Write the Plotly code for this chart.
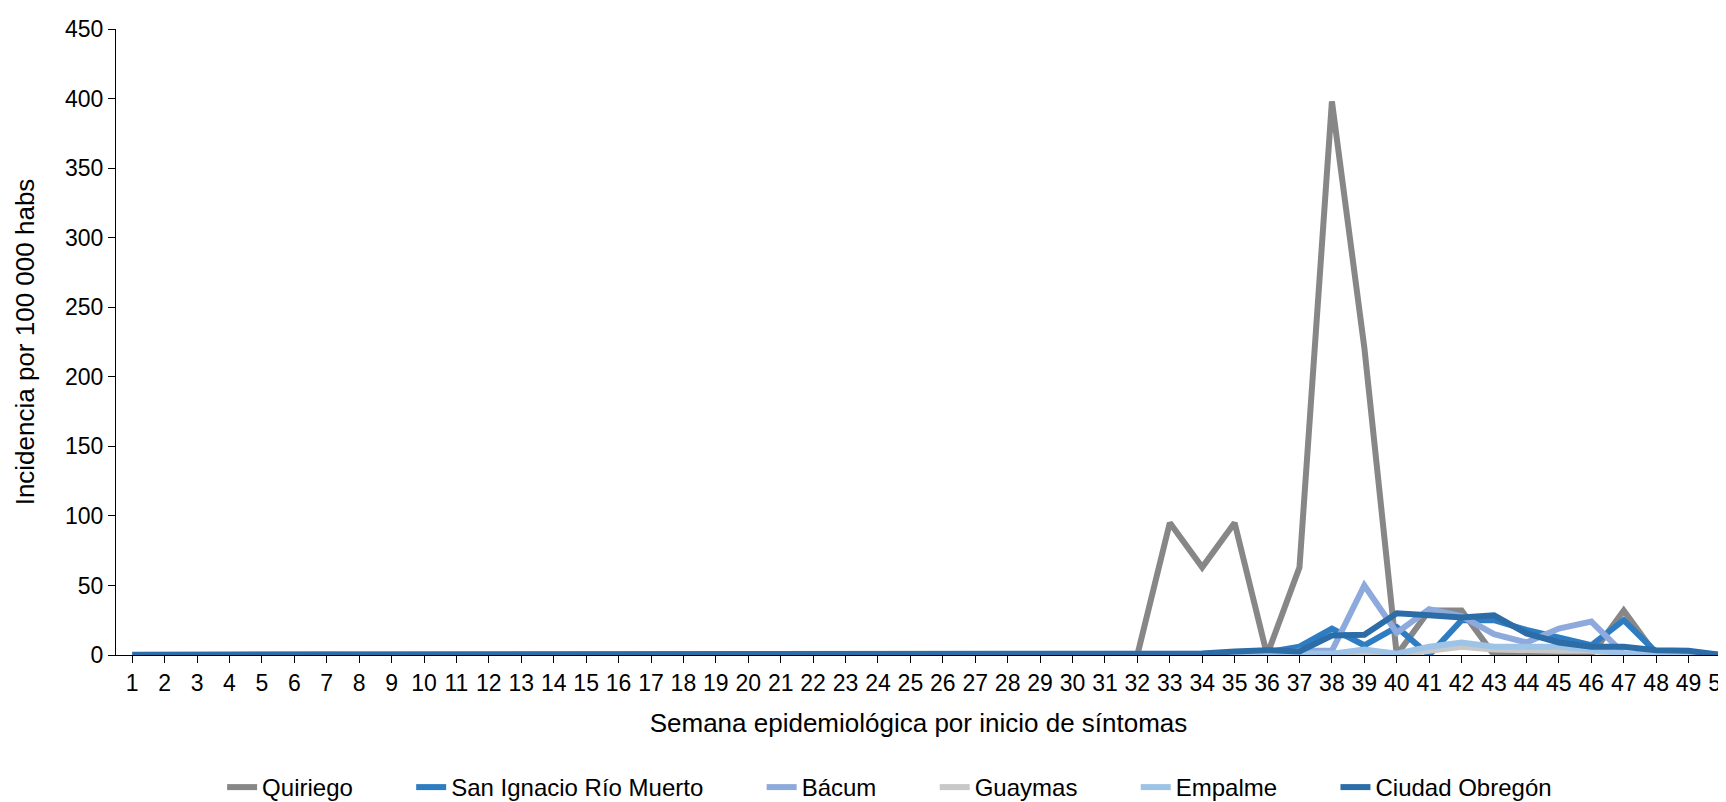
import plotly.graph_objects as go

weeks = list(range(1, 51))

quiriego = [0]*32 + [95, 63, 95, 0, 63, 398, 221, 0, 32, 32, 0, 0, 0, 0, 32, 0, 0, 0]
san_ignacio = [0]*35 + [2, 6, 19, 7, 20, 0, 25, 25, 18, 12, 7, 25, 2, 2, 0]
bacum = [0]*36 + [3, 3, 50, 16, 33, 28, 15, 9, 19, 24, 1, 0, 0, 0]
guaymas = [0, 0.5, 0, 0, 0.3, 0, 0.5, 0, 0, 0, 0, 0, 0, 0, 0, 0, 0, 0, 0, 0,
           0, 0, 0.5, 0, 0, 0, 0, 0, 0, 0, 0, 0, 0, 0, 0, 0, 0, 0, 1, 0,
           3, 6, 4, 3, 3, 3, 0, 0, 0, 0]
empalme = [0]*37 + [1, 4, 1, 6, 9, 6, 6, 6, 4, 1, 0, 0, 0]
obregon = [0.2]*31 + [0.3, 0.6, 1.0, 2.5, 3.5, 2.5, 14, 14.5, 30, 28.5, 27, 28.5, 15.5, 9, 6, 6, 3.5, 3, 0]

names = ["Quiriego", "San Ignacio Río Muerto", "Bácum", "Guaymas", "Empalme", "Ciudad Obregón"]
colors = ["#878787", "#2E7DC3", "#8EAADC", "#C8C8C8", "#9DC3E6", "#2C6DA8"]
values = [quiriego, san_ignacio, bacum, guaymas, empalme, obregon]

y_ticks = list(range(0, 451, 50))

PAD = "\u00a0" * 8

fig = go.Figure()
for i, (name, vals, color) in enumerate(zip(names, values, colors)):
    label = name + (PAD if i < len(names) - 1 else "")
    fig.add_trace(go.Scatter(x=weeks, y=vals, name=label, mode="lines",
                             line=dict(color=color, width=6),
                             cliponaxis=False))

FONT = "Liberation Sans, Arial, sans-serif"
fig.update_layout(
    width=1726, height=802,
    margin=dict(l=108, r=0, t=21, b=148),
    paper_bgcolor="white", plot_bgcolor="white",
    font=dict(family=FONT, size=23, color="black"),
    showlegend=True,
    legend=dict(orientation="h", x=0.482, xanchor="center", y=-0.212, yanchor="middle",
                font=dict(size=24), traceorder="normal"),
    xaxis=dict(range=[0.5, 50.0], tickmode="array", tickvals=weeks, ticktext=[str(w) for w in weeks],
               showgrid=False, zeroline=False, showline=True, linecolor="black", linewidth=1,
               ticks="outside", ticklen=7, tickcolor="black", layer="below traces",
               ticklabeloverflow="allow",
               title=dict(text="Semana epidemiológica por inicio de síntomas", font=dict(size=26), standoff=19),
               tickangle=0),
    yaxis=dict(range=[0, 450], tickvals=y_ticks, showgrid=False, zeroline=False, showline=True,
               linecolor="black", linewidth=1, ticks="outside", ticklen=7, tickcolor="black",
               layer="below traces",
               title=dict(text="Incidencia por 100 000 habs", font=dict(size=26), standoff=22)),
)

fig.write_html("out.html")
